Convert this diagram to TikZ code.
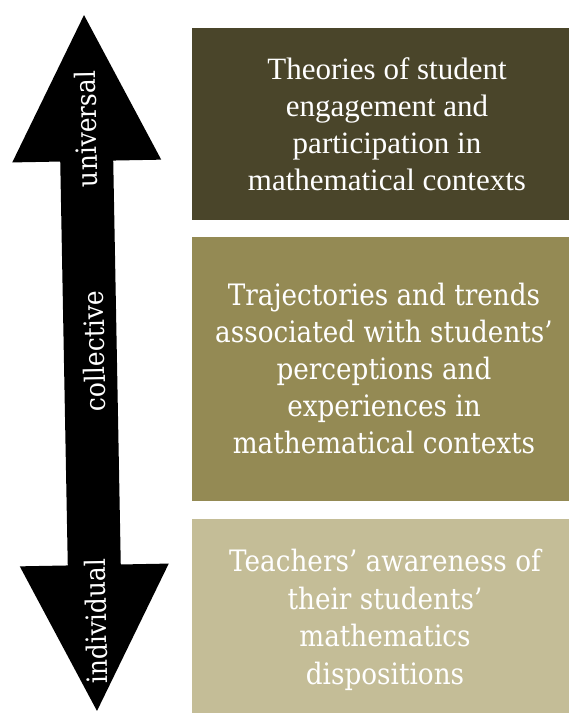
\documentclass[tikz,border=0pt]{standalone}
\usepackage{fontspec}
\setmainfont{Liberation Serif}
\newfontfamily\slabserif[FakeStretch=0.89]{DejaVu Serif}
\definecolor{oliveDeep}{HTML}{4A452A}
\definecolor{oliveMid}{HTML}{948A54}
\definecolor{oliveLight}{HTML}{C4BD97}
\begin{document}
\begin{tikzpicture}[x=1pt,y=-1pt,
  panel/.style={inner sep=0pt, minimum width=377pt},
  paneltext/.style={text=white, align=center, inner sep=0pt},
  armlabel/.style={text=white, inner sep=0pt, font=\slabserif\fontsize{28}{32}\selectfont}]
\useasboundingbox (0,0) rectangle (569,713);

% three stacked panels
\node[panel, fill=oliveDeep, minimum height=192pt] (box1) at (380.5,124) {};
\node[panel, fill=oliveMid, minimum height=264pt] (box2) at (380.5,369) {};
\node[panel, fill=oliveLight, minimum height=194pt] (box3) at (380.5,616) {};

\node[paneltext, font=\fontsize{31}{37}\selectfont] (txt1) at (387,124)
  {Theories of student\\engagement and\\participation in\\mathematical contexts};
\node[paneltext, font=\slabserif\fontsize{29.5}{37}\selectfont] (txt2) at (384,368)
  {Trajectories and trends\\associated with students’\\perceptions and\\experiences in\\mathematical contexts};
\node[paneltext, font=\slabserif\fontsize{29.5}{37.5}\selectfont] (txt3) at (385,620)
  {Teachers’ awareness of\\their students’\\mathematics\\dispositions};

% double-headed scale arrow, slightly tilted
\begin{scope}[shift={(90.5,363)}, rotate=1.07]
  \fill[black] (0,-348) -- (74.5,-202) -- (26.5,-202) -- (26.5,202) -- (74.5,202)
    -- (0,348) -- (-74.5,202) -- (-26.5,202) -- (-26.5,-202) -- (-74.5,-202) -- cycle;
\end{scope}

\node[armlabel, rotate=91.07] (lblU) at (86,129) {universal};
\node[armlabel, rotate=91.07] (lblC) at (94,351) {collective};
\node[armlabel, rotate=91.07] (lblI) at (96,621) {individual};
\end{tikzpicture}
\end{document}
